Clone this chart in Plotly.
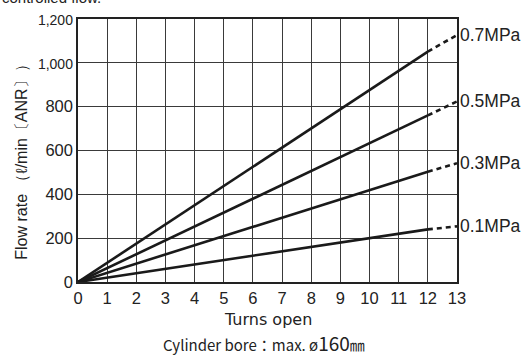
import plotly.graph_objects as go

turns = [0, 3, 6, 9, 12]
turns_ext = [12, 13]
series_names = ["0.7MPa", "0.5MPa", "0.3MPa", "0.1MPa"]
flow_07 = [0, 263, 525, 790, 1051]
flow_05 = [0, 190, 380, 570, 760]
flow_03 = [0, 126, 252, 378, 503]
flow_01 = [0, 60, 122, 183, 240]
ext_07 = [1051, 1127]
ext_05 = [760, 824]
ext_03 = [503, 542]
ext_01 = [240, 254]

x_ticks = list(range(0, 14))
y_ticks = [0, 200, 400, 600, 800, 1000, 1200]
y_ticklabels = ["0", "200", "400", "600", "800",
                "<span style='font-size:14px'>1,000</span>",
                "<span style='font-size:14px'>1,200</span>"]

solid = [flow_07, flow_05, flow_03, flow_01]
dashed = [ext_07, ext_05, ext_03, ext_01]

FONT = "Liberation Sans"

fig = go.Figure()
lc = "#1a1a1a"
for name, s, d in zip(series_names, solid, dashed):
    fig.add_trace(go.Scatter(x=turns, y=s, mode="lines",
                             line=dict(color=lc, width=2.6), showlegend=False))
    fig.add_trace(go.Scatter(x=turns_ext, y=d, mode="lines",
                             line=dict(color=lc, width=2.6, dash="5px,4px"), showlegend=False))
    fig.add_annotation(x=13, y=d[-1], xref="x", yref="y", text=name,
                       showarrow=False, xanchor="left", yanchor="middle", xshift=1,
                       font=dict(family=FONT, size=17.5, color="#222"))

fig.add_annotation(xref="paper", yref="paper", x=-0.148, y=0.472,
                   text="Flow rate \uff08\u2113/min\u3014ANR\u3015\uff09", textangle=-90,
                   showarrow=False, xanchor="center", yanchor="middle",
                   font=dict(family=FONT, size=16, color="#222"))
fig.add_annotation(xref="paper", yref="paper", x=0.5, y=-0.097,
                   text="Turns open", showarrow=False, xanchor="center", yanchor="top",
                   font=dict(family="DejaVu Sans", size=16, color="#222"))
fig.add_annotation(xref="paper", yref="paper", x=0.49, y=-0.172,
                   text="Cylinder bore\uff1amax. \u00f8<span style='font-size:19px'>160</span>\u339c",
                   showarrow=False, xanchor="center", yanchor="top",
                   font=dict(family="Noto Sans CJK KR", size=15, color="#222"))
fig.add_annotation(xref="paper", yref="paper", x=-0.206, y=1.042,
                   text="controlled flow.", showarrow=False, xanchor="left", yanchor="bottom",
                   font=dict(family=FONT, size=15, color="#222"))

axis_font = dict(family=FONT, size=16.5, color="#222")
fig.update_xaxes(range=[0, 13], tickvals=x_ticks, showgrid=True, gridcolor="#3a3a3a",
                 gridwidth=1, showline=True, linecolor="#222", linewidth=1.5, mirror=True,
                 ticks="", tickfont=axis_font, zeroline=False, fixedrange=True)
fig.update_yaxes(range=[0, 1200], tickvals=y_ticks, ticktext=y_ticklabels, showgrid=True,
                 gridcolor="#3a3a3a", gridwidth=1, showline=True, linecolor="#222",
                 linewidth=1.5, mirror=True, ticks="", tickfont=axis_font, zeroline=False,
                 fixedrange=True)
fig.update_layout(width=528, height=356, margin=dict(l=78, r=71, t=17, b=74),
                  plot_bgcolor="white", paper_bgcolor="white")
fig.write_html("out.html", config={"displayModeBar": False},
               post_script="document.body.style.margin='0';document.body.style.overflow='hidden';")
